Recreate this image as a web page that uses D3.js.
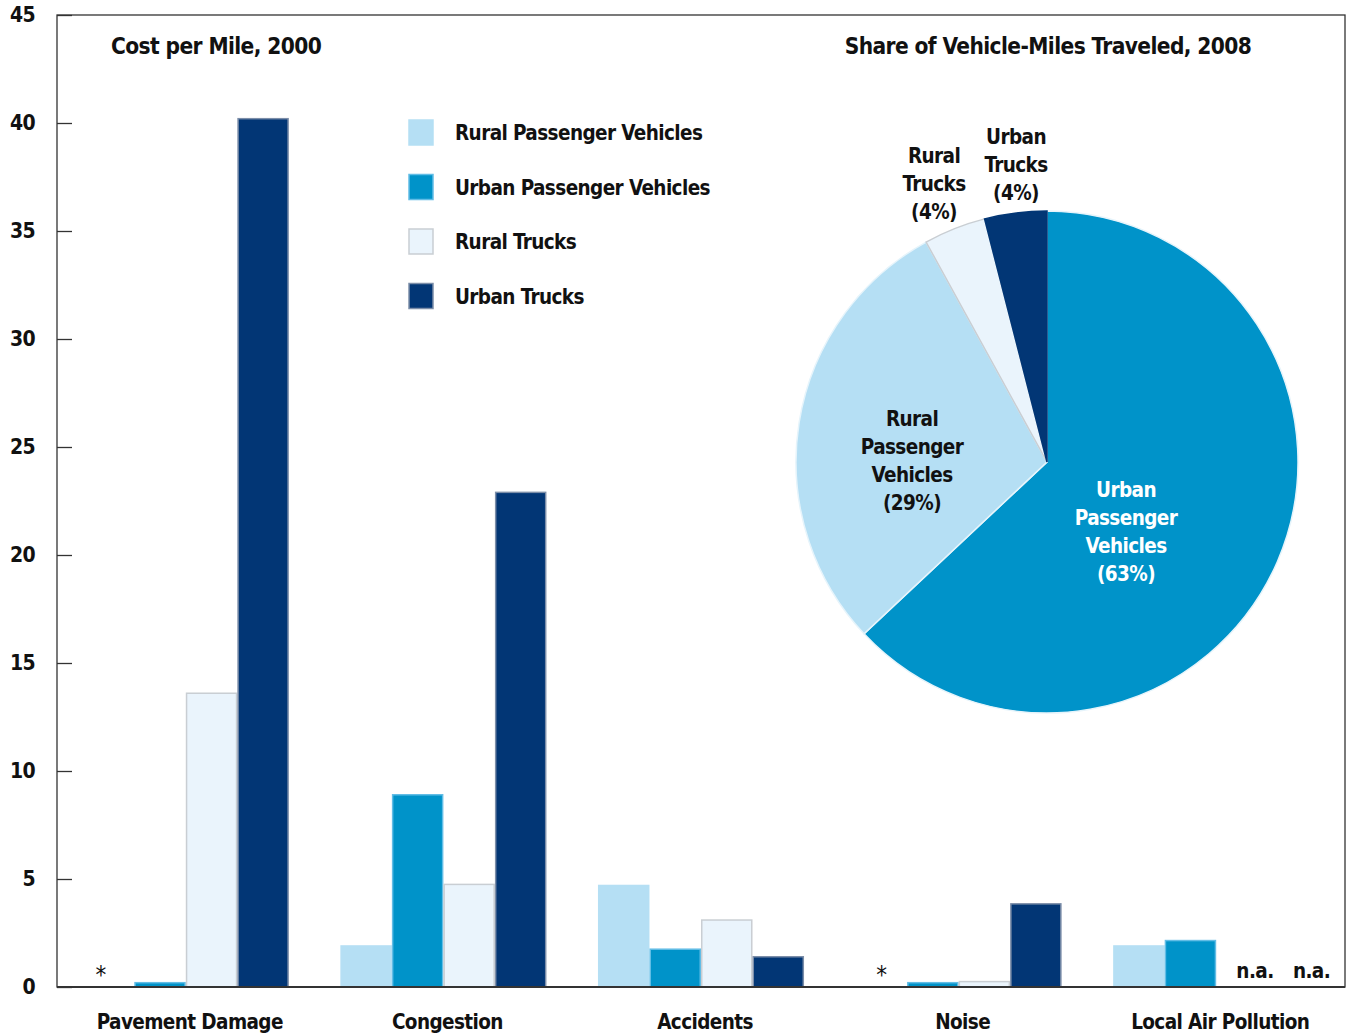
<!DOCTYPE html>
<html><head><meta charset="utf-8">
<script src="https://cdn.jsdelivr.net/npm/d3@7"></script>
<style>
html,body{margin:0;padding:0;background:#fff;}
text{font-family:"DejaVu Sans Condensed","Liberation Sans Narrow",sans-serif;font-weight:bold;fill:#111;letter-spacing:-0.6px;}
</style></head>
<body><svg id="chart" width="1349" height="1034"></svg>
<script>
// ---- data ----
const categories = ["Pavement Damage","Congestion","Accidents","Noise","Local Air Pollution"];
const series = ["Rural Passenger Vehicles","Urban Passenger Vehicles","Rural Trucks","Urban Trucks"];
// cost per mile (cents), 2000; null = not shown
const ruralPV = [null, 1.9, 4.7, null, 1.9];
const urbanPV = [0.2, 8.9, 1.75, 0.2, 2.15];
const ruralTrucks = [13.6, 4.75, 3.1, 0.25, null];
const urbanTrucks = [40.2, 22.9, 1.4, 3.85, null];
const barNotes = [ {cat:"Pavement Damage", s:0, text:"*"}, {cat:"Noise", s:0, text:"*"},
                   {cat:"Local Air Pollution", s:2, text:"n.a."}, {cat:"Local Air Pollution", s:3, text:"n.a."} ];
const yTicks = [0,5,10,15,20,25,30,35,40,45];
const pieLabels = ["Urban Passenger Vehicles","Rural Passenger Vehicles","Rural Trucks","Urban Trucks"];
const pieShares = [63, 29, 4, 4];
const titleBars = "Cost per Mile, 2000";
const titlePie = "Share of Vehicle-Miles Traveled, 2008";

// ---- style ----
const fills = ["#b5dff4","#0093c9","#eaf4fc","#023675"];
const strokes = ["#b5dff4","#62bde6","#c9ced3","#7c8ea9"];
const pieFills = {"Rural Passenger Vehicles":"#b5dff4","Urban Passenger Vehicles":"#0093c9","Rural Trucks":"#eaf4fc","Urban Trucks":"#023675"};
const pieStrokes = {"Rural Passenger Vehicles":"#e6f4fb","Urban Passenger Vehicles":"#e6f4fb","Rural Trucks":"#c9ced3","Urban Trucks":"#023675"};
const FS = "20.5px";

const svg = d3.select("#chart");
const L = 57, R = 1345, T = 15, B = 987;
const x0 = d3.scaleBand().domain(categories).range([L, R]).paddingInner(0.2).paddingOuter(0.1);
const x1 = d3.scaleBand().domain(series).range([0, x0.bandwidth()]);
const y = d3.scaleLinear().domain([0,45]).range([B, T]);

const values = [ruralPV, urbanPV, ruralTrucks, urbanTrucks];
const rows = [];
categories.forEach((c,i)=>series.forEach((s,j)=>{ if(values[j][i]!=null) rows.push({c,s,j,v:values[j][i]}); }));

// bars
svg.append("g").selectAll("rect").data(rows).join("rect")
  .attr("x", d=>x0(d.c)+x1(d.s)+0.75)
  .attr("width", x1.bandwidth()-1.5)
  .attr("y", d=>y(d.v))
  .attr("height", d=>B-y(d.v))
  .attr("fill", d=>fills[d.j])
  .attr("stroke", d=>strokes[d.j])
  .attr("stroke-width",1.5);

// frame + axis
svg.append("rect").attr("x",L).attr("y",T).attr("width",R-L).attr("height",B-T)
  .attr("fill","none").attr("stroke","#333").attr("stroke-width",1.3);
svg.append("line").attr("x1",L).attr("x2",R).attr("y1",B).attr("y2",B).attr("stroke","#333").attr("stroke-width",2);
const yAxis = d3.axisRight(y).tickValues(yTicks).tickSize(15).tickFormat("");
const ga = svg.append("g").attr("transform",`translate(${L},0)`).call(yAxis);
ga.select(".domain").remove();
ga.selectAll(".tick line").attr("stroke","#333").attr("stroke-width",1.3);
svg.append("g").selectAll("text").data(yTicks).join("text")
  .attr("x",35).attr("y",d=>y(d)).attr("dy","0.35em").attr("text-anchor","end")
  .style("font-size","21px").text(d=>d);

// category labels
svg.append("g").selectAll("text").data(categories).join("text")
  .attr("x",d=>x0(d)+x0.bandwidth()/2+4).attr("y",1029)
  .attr("text-anchor","middle").style("font-size",FS).text(d=>d);

// notes
const noteDx = [-8, 0, 13, 18];
svg.append("g").selectAll("text").data(barNotes).join("text")
  .attr("x",(d,i)=>x0(d.cat)+x1(series[d.s])+x1.bandwidth()/2 + noteDx[i])
  .attr("y",d=>d.text==="*"?983:978)
  .attr("text-anchor","middle").style("font-size", d=>d.text==="*"?"24px":FS)
  .style("font-weight", d=>d.text==="*"?"normal":"bold")
  .text(d=>d.text);

// titles
svg.append("text").attr("x",111).attr("y",54).style("font-size","22.5px").text(titleBars);
svg.append("text").attr("x",1048).attr("y",54).attr("text-anchor","middle").style("font-size","22.5px").text(titlePie);

// legend
const lg = svg.append("g").attr("transform","translate(409,120)");
series.forEach((s,i)=>{
  const g = lg.append("g").attr("transform",`translate(0,${i*54.5})`);
  g.append("rect").attr("width",24).attr("height",25).attr("fill",fills[i]).attr("stroke",strokes[i]).attr("stroke-width",1.5);
  g.append("text").attr("x",46).attr("y",13).attr("dy","0.35em").style("font-size",FS).text(s);
});

// pie
const cx = 1047, cy = 462, r = 251;
const pie = d3.pie().sort(null).value(d=>d.v);
const pdata = pie(pieLabels.map((l,i)=>({l, v:pieShares[i]})));
const arc = d3.arc().innerRadius(0).outerRadius(r);
const pg = svg.append("g").attr("transform",`translate(${cx},${cy})`);
pg.selectAll("path").data(pdata).join("path").attr("d",arc)
  .attr("fill",d=>pieFills[d.data.l]).attr("stroke",d=>pieStrokes[d.data.l]).attr("stroke-width",1.5);

// pie labels (offsets from pie center)
const labelOffsets = [[79,35],[-135,-36],[-113,-299],[-31,-318]];
const labelColors = ["#ffffff","#111","#111","#111"];
pdata.forEach((d,i)=>{
  const words = d.data.l.split(" ");
  const lns = (d.data.l.includes("Passenger") ? [words[0],"Passenger","Vehicles"] : words).concat([`(${d.data.v}%)`]);
  const t = pg.append("text").attr("text-anchor","middle")
    .attr("transform",`translate(${labelOffsets[i][0]},${labelOffsets[i][1]})`)
    .style("font-size",FS).style("fill",labelColors[i]);
  lns.forEach((ln,k)=>t.append("tspan").attr("x",0).attr("y",k*28).text(ln));
});
</script></body></html>
